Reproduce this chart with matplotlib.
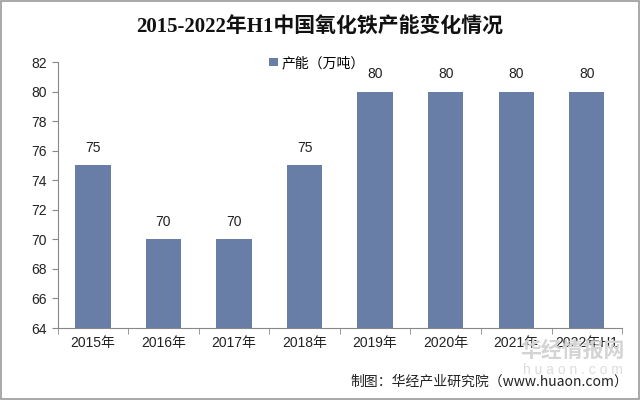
import matplotlib.pyplot as plt
from matplotlib.patches import Rectangle

plt.rcParams['font.family'] = ['Liberation Sans', 'Noto Sans CJK SC']

years = ["2015年", "2016年", "2017年", "2018年", "2019年", "2020年", "2021年", "2022年H1"]
capacity = [75, 70, 70, 75, 80, 80, 80, 80]

bar_color = "#687ea6"

fig = plt.figure(figsize=(6.4, 4.0), dpi=100)
ax = fig.add_axes([0.09, 0.18, 0.882, 0.665])

x = list(range(len(years)))
ax.bar(x, capacity, width=0.5, color=bar_color, label="产能（万吨）", zorder=2)
for xi, v in zip(x, capacity):
    ax.text(xi, v + 0.7, str(v), ha="center", va="bottom", fontsize=10, color="#222222")

ax.set_ylim(64, 82)
ax.set_yticks(range(64, 83, 2))
ax.set_xlim(-0.5, len(years) - 0.5)
ax.set_xticks(x)
ax.set_xticklabels(years)
ax.tick_params(axis="x", length=0, labelsize=10, pad=6)
ax.tick_params(axis="y", length=4, color="#888888", labelsize=10)
for lbl in ax.get_xticklabels() + ax.get_yticklabels():
    lbl.set_color("#222222")
# category boundary ticks
ax.set_xticks([i - 0.5 for i in range(len(years) + 1)], minor=True)
ax.tick_params(axis="x", which="minor", length=4, color="#888888")

for side in ["top", "right"]:
    ax.spines[side].set_visible(False)
for side in ["left", "bottom"]:
    ax.spines[side].set_color("#888888")

ax.legend(loc="upper center", bbox_to_anchor=(0.46, 1.07), frameon=False, fontsize=10,
          handlelength=0.6, handleheight=0.6, handletextpad=0.3,
          prop={"family": ["Noto Sans CJK SC"], "size": 10})

fig.text(0.5, 0.935, "2015-2022年H1中国氧化铁产能变化情况", ha="center", va="center",
         fontsize=15, fontweight="bold", color="#111111",
         family=["Liberation Serif", "Noto Sans CJK SC"])

# watermark
fig.text(0.895, 0.125, "华经情报网", ha="center", va="center", fontsize=15,
         fontweight="bold", color="#d4d4d4", family=["Noto Sans CJK SC"], zorder=0)
fig.text(0.895, 0.075, "h u a o n . c o m", ha="center", va="center", fontsize=10,
         color="#dcdcdc", zorder=0)

fig.text(0.982, 0.046, "制图：华经产业研究院（www.huaon.com）", ha="right", va="center",
         fontsize=10, color="#222222", family=["Noto Sans CJK SC"])

fig.patches.append(Rectangle((0.002, 0.003), 0.996, 0.994, transform=fig.transFigure,
                             fill=False, edgecolor="#999999", linewidth=1.2))

fig.savefig("out.png", dpi=100)
